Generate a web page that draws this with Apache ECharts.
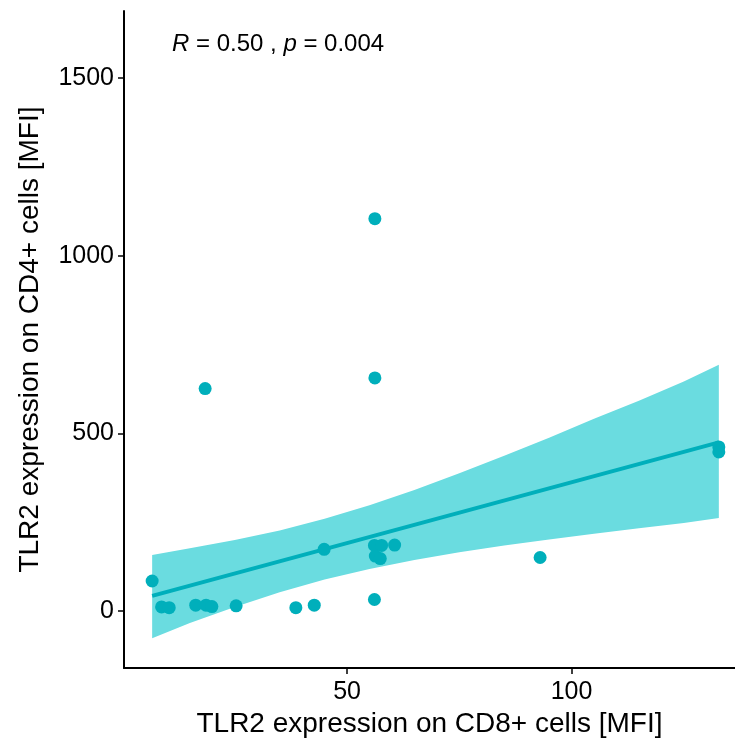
<!DOCTYPE html>
<html>
<head>
<meta charset="utf-8">
<script src="https://cdn.jsdelivr.net/npm/echarts@6/dist/echarts.min.js"></script>
<style>
html,body{margin:0;padding:0;background:#fff;}
#chart{width:735px;height:743px;}
</style>
</head>
<body>
<div id="chart"></div>
<script>
// Scatter points (CD8+ MFI, CD4+ MFI)
var cd8Values = [6.6, 8.7, 10.4, 16.3, 18.6, 19.9, 25.3, 38.6, 42.7, 44.9, 56.1, 56.1, 57.7, 56.3, 57.4, 60.6, 93.0, 56.2, 56.2, 18.4, 132.8, 132.8];
var cd4Values = [85, 12, 10, 17, 17, 13, 15, 10, 17, 174, 33, 185, 185, 155, 148, 186, 151, 1104, 656, 626, 462, 448];

// Regression line endpoints
var fitX = [6.6, 132.8];
var fitY = [43, 475];

// Confidence band
var bandX     = [6.6, 15, 25, 35, 45, 55, 65, 75, 85, 95, 105, 115, 125, 132.8];
var bandUpper = [158, 177, 200, 227, 260, 298, 341, 388, 437, 488, 541, 592, 646, 693];
var bandLower = [-76, -33, 12, 53, 89, 119, 144, 166, 185, 202, 218, 233, 248, 262];

var xTicks = [50, 100];
var yTicks = [0, 500, 1000, 1500];

var annotation = '{i|R} = 0.50 , {i|p} = 0.004';
var xTitle = 'TLR2 expression on CD8+ cells [MFI]';
var yTitle = 'TLR2 expression on CD4+ cells [MFI]';

var FONT = 'Liberation Sans, Arial, Helvetica, sans-serif';
var chart = echarts.init(document.getElementById('chart'), null, {renderer: 'canvas'});

var scatterData = cd8Values.map(function (x, i) { return [x, cd4Values[i]]; });
var fitData = fitX.map(function (x, i) { return [x, fitY[i]]; });

var option = {
  animation: false,
  backgroundColor: '#ffffff',
  title: {
    text: annotation,
    left: 167,
    top: 27,
    textStyle: {
      fontFamily: FONT, fontSize: 24, fontWeight: 'normal', color: '#000',
      rich: { i: { fontFamily: FONT, fontSize: 24, fontStyle: 'italic', color: '#000' } }
    }
  },
  grid: { left: 124, right: 0, top: 11, bottom: 74, containLabel: false },
  xAxis: {
    type: 'value',
    min: 0.33,
    max: 136.4,
    name: xTitle,
    nameLocation: 'middle',
    nameGap: 38,
    nameTextStyle: { fontFamily: FONT, fontSize: 28, color: '#000' },
    axisLine: { show: true, onZero: false, lineStyle: { color: '#000', width: 2 } },
    axisTick: { show: true, length: 6, customValues: xTicks, lineStyle: { color: '#000', width: 1.5 } },
    axisLabel: { customValues: xTicks, margin: 12, fontFamily: FONT, fontSize: 25, color: '#000',
                 formatter: function (v) { return String(v); } },
    splitLine: { show: false }
  },
  yAxis: {
    type: 'value',
    min: -160,
    max: 1688,
    name: yTitle,
    nameLocation: 'middle',
    nameGap: 80,
    nameRotate: 90,
    nameTextStyle: { fontFamily: FONT, fontSize: 28, color: '#000' },
    axisLine: { show: true, onZero: false, lineStyle: { color: '#000', width: 2 } },
    axisTick: { show: true, length: 6, customValues: yTicks, lineStyle: { color: '#000', width: 1.5 } },
    axisLabel: { customValues: yTicks, margin: 10, fontFamily: FONT, fontSize: 25, color: '#000',
                 formatter: function (v) { return String(v); } },
    splitLine: { show: false }
  },
  series: [
    {
      type: 'custom',
      coordinateSystem: 'cartesian2d',
      data: [[bandX[0], bandUpper[0]]],
      clip: true,
      silent: true,
      z: 1,
      renderItem: function (params, api) {
        var pts = [];
        for (var i = 0; i < bandX.length; i++) pts.push(api.coord([bandX[i], bandUpper[i]]));
        for (var j = bandX.length - 1; j >= 0; j--) pts.push(api.coord([bandX[j], bandLower[j]]));
        return { type: 'polygon', shape: { points: pts }, style: { fill: '#6ADCE0' } };
      }
    },
    {
      type: 'line',
      data: fitData,
      showSymbol: false,
      symbol: 'none',
      z: 2,
      lineStyle: { color: '#00AFBB', width: 4 }
    },
    {
      type: 'scatter',
      data: scatterData,
      symbolSize: 13,
      z: 3,
      itemStyle: { color: '#00AFBB', opacity: 1 }
    }
  ]
};
chart.setOption(option);
</script>
</body>
</html>
